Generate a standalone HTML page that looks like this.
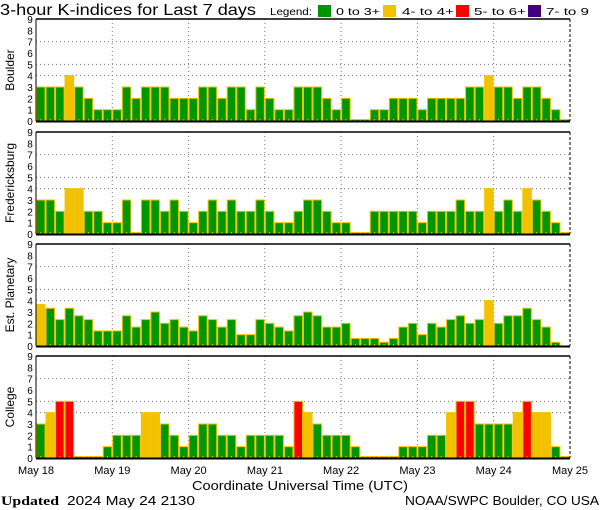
<!DOCTYPE html>
<html><head><meta charset="utf-8"><style>
body{margin:0;background:#fff;}
svg{display:block;font-family:"Liberation Sans",sans-serif;}
</style></head><body>
<svg id="s" width="600" height="510" xmlns="http://www.w3.org/2000/svg">
<text x="0" y="15" font-size="16" fill="#000" textLength="256" lengthAdjust="spacingAndGlyphs">3-hour K-indices for Last 7 days</text>
<text x="270" y="15" font-size="10.5" fill="#000" textLength="42" lengthAdjust="spacingAndGlyphs">Legend:</text>
<rect x="318" y="5" width="13" height="12" fill="#009600"/>
<text x="336" y="15" font-size="10.5" textLength="44" lengthAdjust="spacingAndGlyphs">0 to 3+</text>
<rect x="383" y="5" width="13" height="12" fill="#f2c200"/>
<text x="402" y="15" font-size="10.5" textLength="52" lengthAdjust="spacingAndGlyphs">4- to 4+</text>
<rect x="456" y="5" width="13" height="12" fill="#ff0000"/>
<text x="474" y="15" font-size="10.5" textLength="52" lengthAdjust="spacingAndGlyphs">5- to 6+</text>
<rect x="528" y="5" width="13" height="12" fill="#400080"/>
<text x="546" y="15" font-size="10.5" textLength="43" lengthAdjust="spacingAndGlyphs">7- to 9</text>
<g id="g"></g>
<g font-size="11">
<text x="36" y="474" text-anchor="middle">May 18</text>
<text x="112.3" y="474" text-anchor="middle">May 19</text>
<text x="188.6" y="474" text-anchor="middle">May 20</text>
<text x="264.9" y="474" text-anchor="middle">May 21</text>
<text x="341.1" y="474" text-anchor="middle">May 22</text>
<text x="417.4" y="474" text-anchor="middle">May 23</text>
<text x="493.7" y="474" text-anchor="middle">May 24</text>
<text x="570" y="474" text-anchor="middle">May 25</text>
</g>
<text x="192" y="490" font-size="13" textLength="216" lengthAdjust="spacingAndGlyphs">Coordinate Universal Time (UTC)</text>
<text x="1" y="505" font-size="13" font-family="Liberation Serif,serif" font-weight="bold" textLength="58" lengthAdjust="spacingAndGlyphs">Updated</text>
<text x="67" y="505" font-size="13" textLength="128" lengthAdjust="spacingAndGlyphs">2024 May 24 2130</text>
<text x="405" y="505" font-size="13" textLength="194" lengthAdjust="spacingAndGlyphs">NOAA/SWPC Boulder, CO USA</text>
</svg>
<script>
var P=[
{n:"Boulder",t:19,v:[3,3,3,4,3,2,1,1,1,3,2,3,3,3,2,2,2,3,3,2,3,3,1,3,2,1,1,3,3,3,2,1,2,0,0,1,1,2,2,2,1,2,2,2,2,3,3,4,3,3,2,3,3,2,1,0]},
{n:"Fredericksburg",t:132,v:[3,3,2,4,4,2,2,1,1,3,0,3,3,2,3,2,1,2,3,2,3,2,2,3,2,1,1,2,3,3,2,1,1,0,0,2,2,2,2,2,1,2,2,2,3,2,2,4,2,3,2,4,3,2,1,0]},
{n:"Est. Planetary",t:244,v:[3.67,3.33,2.33,3.33,2.67,2.33,1.33,1.33,1.33,2.67,1.67,2.33,3,2,2.33,1.67,1.33,2.67,2.33,1.67,2.33,1,1,2.33,2,1.67,1.33,2.67,3,2.67,1.67,1.67,2,0.67,0.67,0.67,0.33,0.67,1.67,2,1,2,1.67,2.33,2.67,2,2.33,4,2,2.67,2.67,3.33,2.33,1.67,0.33,null]},
{n:"College",t:356,v:[3,4,5,5,0,0,0,1,2,2,2,4,4,3,2,1,2,3,3,2,2,1,2,2,2,2,1,5,4,3,2,2,2,1,0,0,0,0,1,1,1,2,2,4,5,5,3,3,3,3,4,5,4,4,1,0]}];
var h='',X0=36,X1=570,W=(X1-X0)/56,H=102,U=H/9;
P.forEach(function(p){
 var t=p.t,b=t+H;
 [4,5,7].forEach(function(k){var y=b-k*U;h+='<line x1="'+X0+'" x2="'+X1+'" y1="'+y+'" y2="'+y+'" stroke="#777" stroke-dasharray="1,3"/>';});
 for(var d=1;d<7;d++){var x=X0+d*8*W;h+='<line x1="'+x+'" x2="'+x+'" y1="'+t+'" y2="'+b+'" stroke="#777" stroke-dasharray="1,3"/>';}
 p.v.forEach(function(v,i){
  if(v===null)return;
  var c=v>=6.67?'#400080':v>=4.67?'#ff0000':v>=3.67?'#f2c200':'#009600';
  var hh=v==0?1.5:v*U,x=X0+i*W;
  h+='<rect x="'+(x+0.5)+'" y="'+(b-hh)+'" width="'+(W-1)+'" height="'+hh+'" fill="'+c+'" stroke="#f2c200" stroke-width="1"/>';
  h+='<rect x="'+(x+W/2-0.5)+'" y="'+(b-2)+'" width="1" height="2" fill="#f2c200"/>';
 });
 h+='<line x1="'+X0+'" x2="'+X1+'" y1="'+t+'" y2="'+t+'" stroke="#000" stroke-width="1.5"/>';
 h+='<line x1="'+X0+'" x2="'+X1+'" y1="'+(b+0.5)+'" y2="'+(b+0.5)+'" stroke="#000" stroke-width="2"/>';
 h+='<line x1="'+X0+'" x2="'+X0+'" y1="'+t+'" y2="'+b+'" stroke="#000" stroke-width="1"/>';
 h+='<line x1="'+X1+'" x2="'+X1+'" y1="'+t+'" y2="'+b+'" stroke="#000" stroke-width="1" stroke-dasharray="3,2"/>';
 for(var k=0;k<=9;k++){h+='<text x="30" y="'+(b-k*U+4)+'" font-size="10" text-anchor="middle">'+k+'</text>';}
 var cy=t+H/2;
 h+='<text transform="translate(14,'+cy+') rotate(-90)" font-size="12" text-anchor="middle">'+p.n+'</text>';
});
document.getElementById('g').innerHTML=h;
</script>
</body></html>
